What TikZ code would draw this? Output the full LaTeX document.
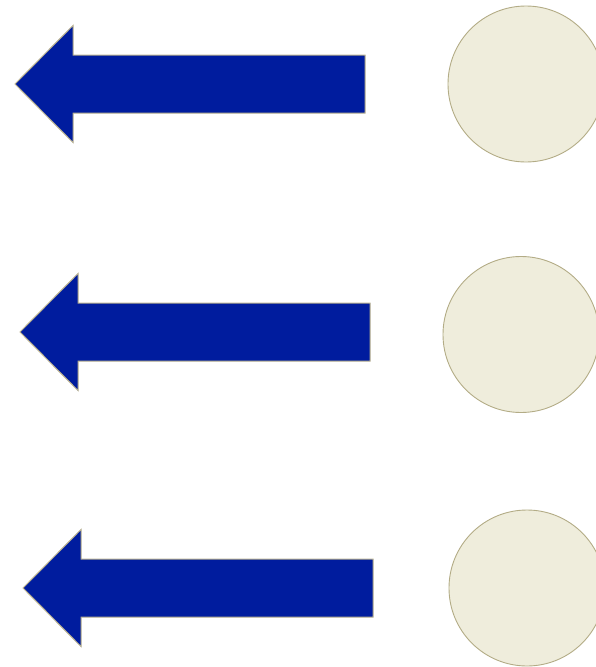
\documentclass[tikz,border=0pt]{standalone}
\definecolor{arrowblue}{HTML}{001C9E}
\definecolor{arrowedge}{HTML}{B8B08E}
\definecolor{discfill}{HTML}{EFEDDC}
\definecolor{discedge}{HTML}{B3AC86}
\begin{document}
\begin{tikzpicture}[x=1pt,y=-1pt,
  bigarrow/.style={fill=arrowblue,draw=arrowedge,line width=1pt,line join=miter},
  disc/.style={circle,fill=discfill,draw=discedge,line width=0.9pt,minimum size=156pt,inner sep=0pt}]
\useasboundingbox (0,0) rectangle (596,667);
\begin{scope}
\clip (0,0) rectangle (596,667);
% left-pointing block arrows: tip, head back, head half-height, shaft half-height, tail
\foreach \tx/\hx/\cy/\ex in {15/73/84/365, 20/78/332/370, 23/81/588/373}{
  \draw[bigarrow] (\tx,\cy) -- (\hx,\cy-58.5) -- (\hx,\cy-29) -- (\ex,\cy-29)
    -- (\ex,\cy+29) -- (\hx,\cy+29) -- (\hx,\cy+58.5) -- cycle;
}
% discs on the right
\node[disc] (d1) at (526,84) {};
\node[disc] (d2) at (521,334.5) {};
\node[disc] (d3) at (527,588) {};
\end{scope}
\end{tikzpicture}
\end{document}
